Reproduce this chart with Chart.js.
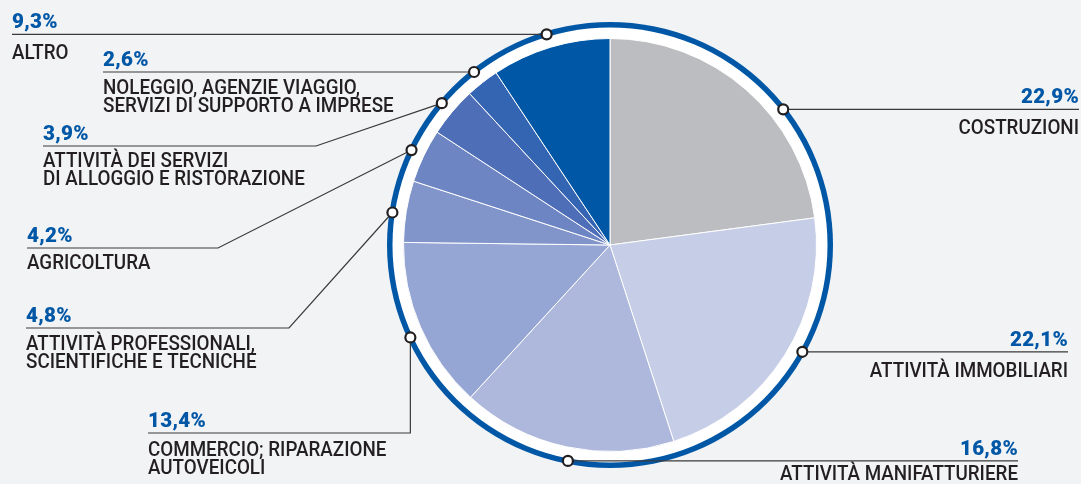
<!DOCTYPE html>
<html>
<head>
<meta charset="utf-8">
<script src="https://cdn.jsdelivr.net/npm/chart.js@4.4.1/dist/chart.umd.min.js"></script>
<style>
  html, body { margin: 0; padding: 0; background: #f2f3f5; }
  #wrap { width: 1081px; height: 484px; position: relative; }
</style>
</head>
<body>
<div id="wrap"><canvas id="torta"></canvas></div>
<script>
// Dati
const categorie = [
    ['COSTRUZIONI'],
    ['ATTIVITÀ IMMOBILIARI'],
    ['ATTIVITÀ MANIFATTURIERE'],
    ['COMMERCIO; RIPARAZIONE', 'AUTOVEICOLI'],
    ['ATTIVITÀ PROFESSIONALI,', 'SCIENTIFICHE E TECNICHE'],
    ['AGRICOLTURA'],
    ['ATTIVITÀ DEI SERVIZI', 'DI ALLOGGIO E RISTORAZIONE'],
    ['NOLEGGIO, AGENZIE VIAGGIO,', 'SERVIZI DI SUPPORTO A IMPRESE'],
    ['ALTRO']
];
const valori = [22.9, 22.1, 16.8, 13.4, 4.8, 4.2, 3.9, 2.6, 9.3];
const etichettePct = ['22,9%', '22,1%', '16,8%', '13,4%', '4,8%', '4,2%', '3,9%', '2,6%', '9,3%'];

// Stile
const colori = ['#bcbdc0', '#c6cde7', '#aeb8dc', '#96a6d4', '#8195cb', '#6d85c3', '#4e6eb8', '#3465b2', '#0057a6'];
const BLU = '#0057a6';
const TESTO = '#231f20';

// Posizione dei richiami (x testo, y linea, gomito, allineamento, punto sullo spicchio, scarto testo)
const richiami = [
    { x: 1079, y: null, align: 'right', frac: 0.63, dy: 25 },
    { x: 1068, y: null, align: 'right', frac: 0.46, dy: 25 },
    { x: 1018, y: null, align: 'right', frac: 0.48, dy: 19 },
    { x: 148, y: 433, vert: true, align: 'left', frac: 0.47, dy: 23 },
    { x: 26, y: 328, elbow: 289, align: 'left', frac: 0.45, dy: 22 },
    { x: 27, y: 248, elbow: 218, align: 'left', frac: 0.5, dy: 21 },
    { x: 43, y: 146, elbow: 316, align: 'left', frac: 0.5, dy: 21 },
    { x: 103, y: null, align: 'left', frac: 0.5, dy: 22 },
    { x: 12, y: null, align: 'left', frac: 0.5, dy: 25 }
];

const RAGGIO_ANELLO = 220;

// testo compresso in orizzontale
function testoStretto(ctx, testo, x, y, sx) {
    ctx.save();
    ctx.translate(x, y);
    ctx.scale(sx, 1);
    ctx.fillText(testo, 0, 0);
    ctx.restore();
}

// Anello blu e fondo bianco
const anelloPlugin = {
    id: 'anello',
    beforeDatasetsDraw(chart) {
        const arc = chart.getDatasetMeta(0).data[0];
        if (!arc) return;
        const ctx = chart.ctx;
        ctx.save();
        ctx.beginPath();
        ctx.arc(arc.x, arc.y, RAGGIO_ANELLO + 3, 0, Math.PI * 2);
        ctx.fillStyle = BLU;
        ctx.fill();
        ctx.beginPath();
        ctx.arc(arc.x, arc.y, RAGGIO_ANELLO - 2.5, 0, Math.PI * 2);
        ctx.fillStyle = '#ffffff';
        ctx.fill();
        ctx.restore();
    }
};

// Linee di richiamo ed etichette
const richiamiPlugin = {
    id: 'richiami',
    afterDatasetsDraw(chart) {
        const ctx = chart.ctx;
        const meta = chart.getDatasetMeta(0);
        ctx.save();
        meta.data.forEach((arc, i) => {
            const r = richiami[i];
            const ang = arc.startAngle + (arc.endAngle - arc.startAngle) * r.frac;
            const mx = arc.x + Math.cos(ang) * RAGGIO_ANELLO;
            const my = arc.y + Math.sin(ang) * RAGGIO_ANELLO;
            const ly = r.y === null ? my : r.y;

            ctx.beginPath();
            ctx.moveTo(r.x, ly);
            if (r.vert) {
                ctx.lineTo(mx, ly);
            } else if (r.elbow) {
                ctx.lineTo(r.elbow, ly);
            }
            ctx.lineTo(mx, my);
            ctx.strokeStyle = '#3a3a3a';
            ctx.lineWidth = 1.2;
            ctx.stroke();

            ctx.beginPath();
            ctx.arc(mx, my, 5, 0, Math.PI * 2);
            ctx.fillStyle = '#ffffff';
            ctx.fill();
            ctx.lineWidth = 2.2;
            ctx.strokeStyle = TESTO;
            ctx.stroke();

            ctx.textAlign = r.align;
            ctx.textBaseline = 'alphabetic';
            ctx.fillStyle = BLU;
            ctx.font = '900 21px Roboto, sans-serif';
            ctx.letterSpacing = '0.3px';
            testoStretto(ctx, etichettePct[i], r.x, ly - 6, 0.98);

            ctx.fillStyle = TESTO;
            ctx.font = '500 20px Roboto, sans-serif';
            ctx.letterSpacing = '0px';
            categorie[i].forEach((riga, k) => {
                testoStretto(ctx, riga, r.x, ly + r.dy + k * 18, 0.94);
            });
        });
        ctx.restore();
    }
};

new Chart(document.getElementById('torta'), {
    type: 'pie',
    data: {
        labels: categorie.map(c => c.join(' ')),
        datasets: [{
            data: valori,
            backgroundColor: colori,
            borderColor: '#ffffff',
            borderWidth: 1
        }]
    },
    options: {
        responsive: true,
        maintainAspectRatio: false,
        animation: false,
        layout: { padding: { left: 403, right: 264, top: 38, bottom: 32 } },
        plugins: {
            legend: { display: false },
            tooltip: { enabled: false }
        }
    },
    plugins: [anelloPlugin, richiamiPlugin]
});
</script>
</body>
</html>
